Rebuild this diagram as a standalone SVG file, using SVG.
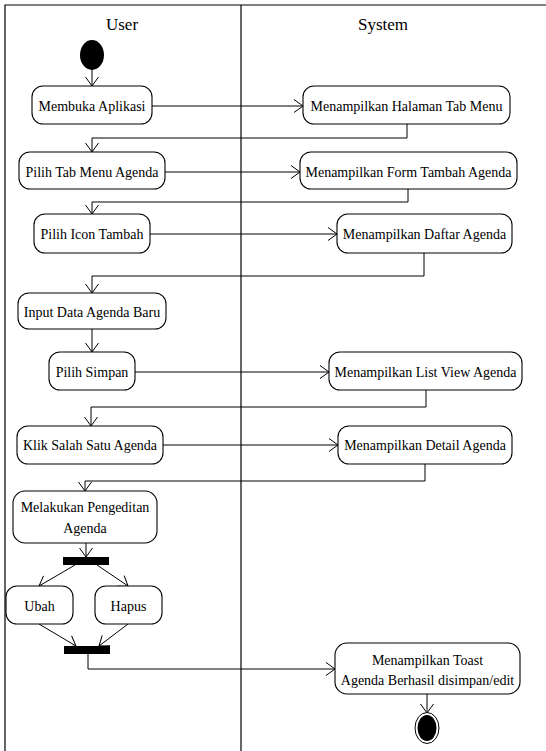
<svg xmlns="http://www.w3.org/2000/svg" width="546" height="751" viewBox="0 0 546 751">
<style>
.frame{fill:none;stroke:#000;stroke-width:1.2}
.box{fill:#fff;stroke:#000;stroke-width:1.1}
.t{font-family:'Liberation Serif','Times New Roman',serif;font-size:14px;fill:#000;text-anchor:middle;dominant-baseline:central}
.h{font-family:'Liberation Serif','Times New Roman',serif;font-size:17px;fill:#000;text-anchor:middle}
.c{fill:none;stroke:#000;stroke-width:1;marker-end:url(#arr)}
.bar{fill:#000}
</style>
<defs>
<marker id="arr" markerUnits="userSpaceOnUse" markerWidth="12" markerHeight="16" refX="10" refY="8" orient="auto">
<path d="M1,1.5 L10,8 L1,14.5" fill="none" stroke="#000" stroke-width="1"/>
</marker>
</defs>
<g id="swimlanes">
<path class="frame" d="M5,751 L5,5 L546,5"/>
<line class="frame" x1="241" y1="5" x2="241" y2="751"/>
<text class="h" x="122" y="30">User</text>
<text class="h" x="383" y="30">System</text>
</g>
<g id="connectors">
<path class="c" d="M92,70 L92,86"/>
<path class="c" d="M152,106 L303,106"/>
<path class="c" d="M407,124 L407,138 L92,138 L92,152"/>
<path class="c" d="M165,172 L300,172"/>
<path class="c" d="M408,189 L408,202 L92,202 L92,214"/>
<path class="c" d="M150,234 L337,234"/>
<path class="c" d="M424,253 L424,276 L92,276 L92,293"/>
<path class="c" d="M92,329 L92,352"/>
<path class="c" d="M135,372 L329,372"/>
<path class="c" d="M426,390 L426,407 L91,407 L91,426"/>
<path class="c" d="M163,445 L338,445"/>
<path class="c" d="M425,464 L425,481 L85,481 L85,491"/>
<path class="c" d="M86,543 L86,557"/>
<path class="c" d="M75,565 L39,586"/>
<path class="c" d="M97,565 L128,586"/>
<path class="c" d="M39,624 L76,646"/>
<path class="c" d="M128,624 L99,646"/>
<path class="c" d="M88,654 L88,669 L335,669"/>
<path class="c" d="M427,694 L427,713"/>
</g>
<g id="start"><ellipse cx="92" cy="55" rx="12" ry="15" fill="#000"/></g>
<g id="membuka"><rect class="box" x="32" y="86" width="120" height="38" rx="11"/><text class="t" x="92" y="106">Membuka Aplikasi</text></g>
<g id="halaman"><rect class="box" x="303" y="86" width="207" height="38" rx="11"/><text class="t" x="406.5" y="106">Menampilkan Halaman Tab Menu</text></g>
<g id="pilihtab"><rect class="box" x="19" y="152" width="146" height="37" rx="11"/><text class="t" x="92" y="172">Pilih Tab Menu Agenda</text></g>
<g id="form"><rect class="box" x="300" y="152" width="217" height="37" rx="11"/><text class="t" x="408.5" y="172">Menampilkan Form Tambah Agenda</text></g>
<g id="icon"><rect class="box" x="34" y="214" width="116" height="39" rx="11"/><text class="t" x="92" y="234">Pilih Icon Tambah</text></g>
<g id="daftar"><rect class="box" x="337" y="214" width="175" height="39" rx="11"/><text class="t" x="424.5" y="234">Menampilkan Daftar Agenda</text></g>
<g id="input"><rect class="box" x="18" y="293" width="148" height="36" rx="11"/><text class="t" x="92" y="312">Input Data Agenda Baru</text></g>
<g id="simpan"><rect class="box" x="49" y="352" width="86" height="38" rx="11"/><text class="t" x="92" y="372">Pilih Simpan</text></g>
<g id="listview"><rect class="box" x="329" y="352" width="193" height="38" rx="11"/><text class="t" x="425.5" y="372">Menampilkan List View Agenda</text></g>
<g id="klik"><rect class="box" x="17" y="426" width="146" height="38" rx="11"/><text class="t" x="90" y="445">Klik Salah Satu Agenda</text></g>
<g id="detail"><rect class="box" x="338" y="426" width="174" height="38" rx="11"/><text class="t" x="425" y="445">Menampilkan Detail Agenda</text></g>
<g id="pengeditan"><rect class="box" x="13" y="491" width="144" height="52" rx="12"/><text class="t" x="85" y="507">Melakukan Pengeditan</text><text class="t" x="85" y="528">Agenda</text></g>
<g id="fork"><rect class="bar" x="63" y="557" width="46" height="8"/></g>
<g id="ubah"><rect class="box" x="6" y="586" width="67" height="38" rx="11"/><text class="t" x="39.5" y="606">Ubah</text></g>
<g id="hapus"><rect class="box" x="95" y="586" width="67" height="38" rx="11"/><text class="t" x="128.5" y="606">Hapus</text></g>
<g id="join"><rect class="bar" x="64" y="646" width="46" height="8"/></g>
<g id="toast"><rect class="box" x="335" y="643" width="185" height="51" rx="12"/><text class="t" x="427.5" y="660">Menampilkan Toast</text><text class="t" x="427.5" y="680">Agenda Berhasil disimpan/edit</text></g>
<g id="end"><ellipse cx="427" cy="728" rx="12" ry="15.5" fill="#fff" stroke="#000" stroke-width="1"/><ellipse cx="427" cy="728" rx="9.5" ry="13" fill="#000"/></g>
</svg>
